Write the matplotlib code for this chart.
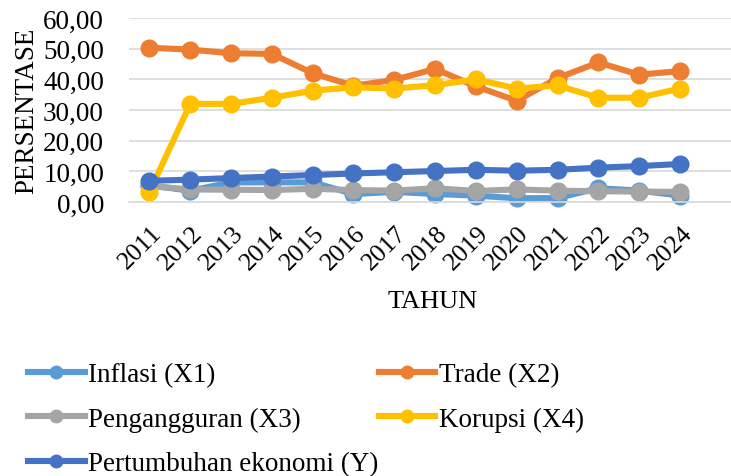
import matplotlib
matplotlib.use("Agg")
import matplotlib.pyplot as plt
from matplotlib.ticker import FuncFormatter
import matplotlib.transforms as mtransforms

# data
tahun = ["2011", "2012", "2013", "2014", "2015", "2016", "2017",
         "2018", "2019", "2020", "2021", "2022", "2023", "2024"]
inflasi = [5.4, 3.7, 6.4, 6.4, 6.4, 2.6, 3.3, 2.6, 2.1, 1.2, 1.3, 4.5, 3.7, 2.1]
trade = [50.3, 49.7, 48.5, 48.3, 42.0, 37.9, 39.8, 43.4, 37.7, 33.0, 40.4, 45.5, 41.5, 42.7]
pengangguran = [5.2, 4.1, 4.0, 3.9, 4.3, 3.9, 3.7, 4.5, 3.6, 4.1, 3.7, 3.5, 3.4, 3.3]
korupsi = [3.2, 32.0, 32.0, 34.0, 36.3, 37.4, 37.0, 38.1, 40.0, 37.0, 38.0, 34.0, 34.0, 37.0]
pertumbuhan = [6.9, 7.3, 7.8, 8.3, 8.8, 9.3, 9.7, 10.1, 10.5, 10.2, 10.5, 11.2, 11.7, 12.4]

series = [
    ("Inflasi (X1)", inflasi, "#5B9BD5"),
    ("Trade (X2)", trade, "#ED7D31"),
    ("Pengangguran (X3)", pengangguran, "#A5A5A5"),
    ("Korupsi (X4)", korupsi, "#FFC000"),
    ("Pertumbuhan ekonomi (Y)", pertumbuhan, "#4472C4"),
]

plt.rcParams['font.family'] = ['Liberation Serif', 'DejaVu Serif']

fig = plt.figure(figsize=(7.31, 4.77), dpi=100)
ax = fig.add_axes([129 / 731, 1 - 203 / 477, (731 - 129) / 731, 184 / 477])

x = list(range(len(tahun)))
handles = {}
for nama, nilai, warna in series:
    h, = ax.plot(x, nilai, color=warna, lw=4.4, marker='o', ms=12,
                 label=nama, clip_on=False, solid_joinstyle='round')
    handles[nama] = h

ax.set_ylim(0, 60)
ax.set_yticks(range(0, 61, 10))
ax.yaxis.set_major_formatter(FuncFormatter(lambda v, p: f"{v:.2f}".replace(".", ",")))
ax.set_xlim(-0.5, 14.25)
ax.set_xticks(x)
ax.set_xticklabels(tahun, rotation=45, ha='right', va='top', rotation_mode='anchor')
ax.tick_params(axis='both', length=0)
ax.tick_params(axis='x', pad=14, labelsize=18.5)
ax.tick_params(axis='y', pad=18, labelsize=19.5)
geser = mtransforms.ScaledTranslation(1 / 100, 0, fig.dpi_scale_trans)
for lbl in ax.get_xticklabels():
    lbl.set_transform(lbl.get_transform() + geser)
ax.grid(axis='y', color='#D9D9D9', lw=1.2)
ax.set_axisbelow(True)
for s in ['top', 'right', 'left']:
    ax.spines[s].set_visible(False)
ax.spines['bottom'].set_color('#D9D9D9')
ax.spines['bottom'].set_linewidth(1.2)

ax.set_ylabel("PERSENTASE", fontsize=19.5, labelpad=3)
fig.text(433 / 731, 1 - 302 / 477, "TAHUN", fontsize=19, ha='center', va='center')

urut = ["Inflasi (X1)", "Pengangguran (X3)", "Pertumbuhan ekonomi (Y)",
        "Trade (X2)", "Korupsi (X4)"]
leg = fig.legend([handles[n] for n in urut], urut, ncol=2, frameon=False,
                 fontsize=19.5, loc='upper left', bbox_to_anchor=(28 / 731, 1 - 363 / 477),
                 handlelength=2.1, handletextpad=0.12, columnspacing=0.0,
                 labelspacing=0.72, borderaxespad=0, borderpad=0)
for lh in leg.legend_handles:
    lh.set_markersize(9)

fig.savefig("out.png", dpi=100)
